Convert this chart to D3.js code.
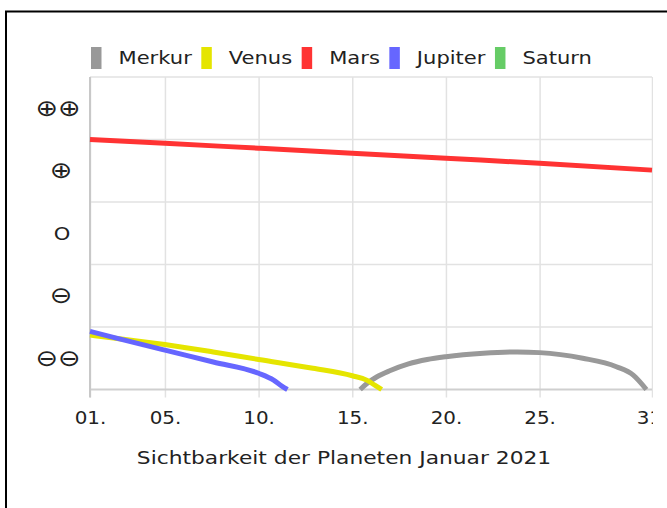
<!DOCTYPE html>
<html>
<head>
    <meta charset="utf-8">
    <script src="https://d3js.org/d3.v7.min.js" charset="utf-8"></script>
    <style>
        body { margin: 0; background: #fff; }
        svg { display: block; font-family: "DejaVu Sans", Verdana, sans-serif; }
    </style>
</head>
<body>
<script>
    // days of January 2021 and visibility values (0 .. 5)
    const planets = ["Merkur", "Venus", "Mars", "Jupiter", "Saturn"];
    const colors = ["#999999", "#e5e500", "#ff3333", "#6666ff", "#66cc66"];

    const merkurDays = [15.42, 15.8, 16.3, 17, 18, 19, 20, 22, 23.8, 25, 27.3, 29.1, 30, 30.7];
    const merkurVals = [0, 0.1, 0.2, 0.3, 0.41, 0.48, 0.525, 0.58, 0.6, 0.59, 0.5, 0.365, 0.23, 0];

    const venusDays = [1, 2.25, 5, 7.58, 10, 12.9, 15, 15.77, 16.2, 16.57];
    const venusVals = [0.87, 0.825, 0.72, 0.6, 0.48, 0.34, 0.22, 0.15, 0.07, 0];

    const marsDays = [1, 5, 10, 15, 20, 25, 31];
    const marsVals = [4.0, 3.94, 3.86, 3.78, 3.70, 3.62, 3.51];

    const jupiterDays = [1, 2.25, 5, 7.58, 10, 10.8, 11.24, 11.54];
    const jupiterVals = [0.93, 0.835, 0.63, 0.44, 0.26, 0.15, 0.055, 0];

    const saturnDays = [];
    const saturnVals = [];

    const xTicks = [1, 5, 10, 15, 20, 25, 31];
    const xTickLabels = ["01.", "05.", "10.", "15.", "20.", "25.", "31."];
    const yLevels = [0.5, 1.5, 2.5, 3.5, 4.5];
    const yLabels = ["⊖⊖", "⊖", "O", "⊕", "⊕⊕"];
    const title = "Sichtbarkeit der Planeten Januar 2021";

    const series = [
        { days: merkurDays, vals: merkurVals },
        { days: venusDays, vals: venusVals },
        { days: marsDays, vals: marsVals },
        { days: jupiterDays, vals: jupiterVals },
        { days: saturnDays, vals: saturnVals }
    ];

    const W = 667, H = 508;
    const plotL = 90, plotR = 652, plotT = 77, plotB = 389.5;
    const stretch = 1.17;   // text in the picture is drawn a bit wide

    const svg = d3.select("body").append("svg").attr("width", W).attr("height", H);

    // frame (left and top edges visible)
    svg.append("path").attr("d", `M6,508V11.5H667`)
        .attr("fill", "none").attr("stroke", "#000").attr("stroke-width", 2);

    svg.append("clipPath").attr("id", "cut")
        .append("rect").attr("x", 0).attr("y", 0).attr("width", 653).attr("height", H);

    const chart = svg.append("g").attr("clip-path", "url(#cut)");

    const x = d3.scaleLinear().domain([1, 31]).range([plotL, plotR]);
    const y = d3.scaleLinear().domain([0, 5]).range([plotB, plotT]);

    // horizontal grid
    chart.append("g").selectAll("line")
        .data([1, 2, 3, 4, 5]).enter().append("line")
        .attr("x1", plotL).attr("x2", plotR)
        .attr("y1", d => y(d)).attr("y2", d => y(d))
        .attr("stroke", "#e2e2e2").attr("stroke-width", 1.5);

    // x axis with vertical grid lines
    const xAxis = chart.append("g")
        .attr("transform", `translate(0,${plotB + 8})`)
        .call(d3.axisBottom(x).tickValues(xTicks)
            .tickFormat((d, i) => xTickLabels[i])
            .tickSize(-(plotB + 8 - plotT)).tickPadding(0));
    xAxis.select(".domain").remove();
    xAxis.selectAll("line").attr("stroke", "#e2e2e2").attr("stroke-width", 1.5);
    xAxis.selectAll("text")
        .attr("y", 26.5).attr("dy", null)
        .attr("transform", `scale(${stretch},1)`)
        .attr("fill", "#222").style("font-size", "17px")
        .style("font-family", "DejaVu Sans, sans-serif");

    // axis lines
    chart.append("line").attr("x1", plotL).attr("x2", plotR).attr("y1", plotB).attr("y2", plotB)
        .attr("stroke", "#cfcfcf").attr("stroke-width", 2);
    chart.append("line").attr("x1", plotL).attr("x2", plotL).attr("y1", plotT).attr("y2", plotB + 8)
        .attr("stroke", "#c8c8c8").attr("stroke-width", 2);

    // y labels (circle symbols need a bigger size to match the plain "O")
    chart.append("g").selectAll("text")
        .data(yLevels).enter().append("text")
        .attr("transform", (d, i) => yLabels[i] === "O"
            ? `translate(62,${y(d) + 6.5}) scale(${stretch},1)`
            : `translate(${yLabels[i].length > 1 ? 58 : 61},${y(d) + 7.5}) scale(${stretch},1)`)
        .attr("text-anchor", "middle")
        .attr("fill", "#222")
        .style("font-size", (d, i) => yLabels[i] === "O" ? "18px" : "23px")
        .text((d, i) => yLabels[i]);

    // lines
    const line = d3.line()
        .x(d => x(d[0]))
        .y(d => y(d[1]))
        .curve(d3.curveMonotoneX);

    chart.append("g").selectAll("path")
        .data(series).enter().append("path")
        .attr("d", s => line(s.days.map((d, i) => [d, s.vals[i]])))
        .attr("fill", "none")
        .attr("stroke", (s, i) => colors[i])
        .attr("stroke-width", 5)
        .attr("stroke-linejoin", "round");

    // legend, laid out left to right
    const legend = svg.append("g");
    let lx = 91;
    planets.forEach((p, i) => {
        legend.append("rect")
            .attr("x", lx).attr("y", 47).attr("width", 10.5).attr("height", 22)
            .attr("fill", colors[i]);
        const t = legend.append("text")
            .attr("transform", `translate(${lx + 27.5},64) scale(${stretch},1)`)
            .attr("fill", "#222").style("font-size", "18px")
            .text(p);
        lx += 27.5 + t.node().getComputedTextLength() * stretch + 9.5;
    });

    // title
    svg.append("text")
        .attr("transform", `translate(344,464) scale(1.21,1)`)
        .attr("text-anchor", "middle")
        .attr("fill", "#222").style("font-size", "18px")
        .text(title);
</script>
</body>
</html>
